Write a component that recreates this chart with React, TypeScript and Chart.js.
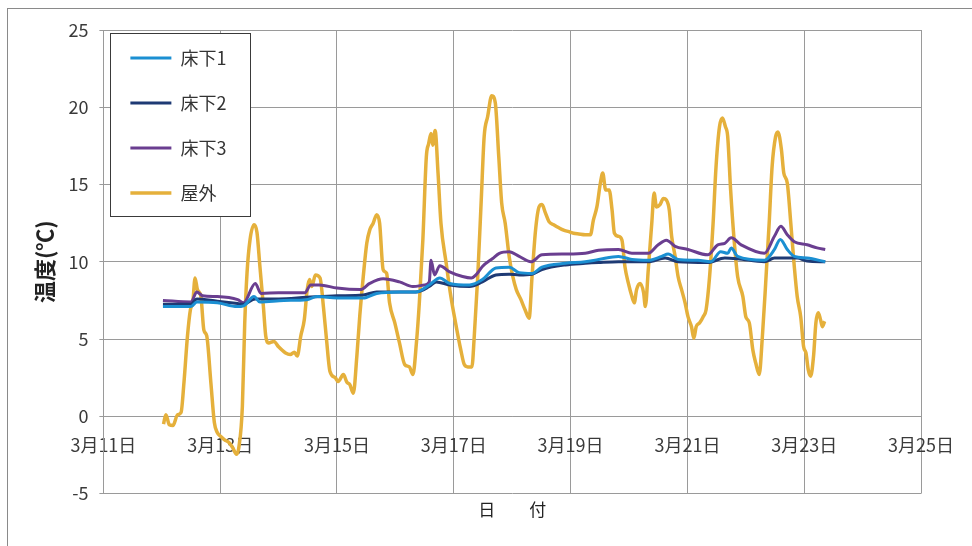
import React, { useEffect, useRef } from "react";
import { Chart, registerables } from "chart.js";

Chart.register(...registerables);

// ---- Axis ticks ----
const xTickDays = [11, 13, 15, 17, 19, 21, 23, 25];
const xTickLabels = ["3月11日", "3月13日", "3月15日", "3月17日", "3月19日", "3月21日", "3月23日", "3月25日"];
const yMin = -5;
const yMax = 25;
const yStep = 5;

// ---- Series (x = day of March, y = °C) ----
const seriesNames = ["床下1", "床下2", "床下3", "屋外"];

const floor1Days = [12.02, 12.5, 12.6, 12.95, 13.29, 13.4, 13.58, 13.68, 14.09, 14.48, 14.66, 15.0, 15.45, 15.68, 16.07, 16.35, 16.58, 16.76, 16.93, 17.27, 17.49, 17.72, 17.95, 18.12, 18.34, 18.51, 18.91, 19.25, 19.48, 19.82, 20.05, 20.33, 20.56, 20.67, 20.84, 21.18, 21.4, 21.57, 21.69, 21.75, 21.86, 22.32, 22.49, 22.59, 22.71, 22.83, 23.05, 23.36];
const floor1Temps = [7.1, 7.1, 7.4, 7.35, 7.1, 7.15, 7.75, 7.4, 7.5, 7.55, 7.75, 7.65, 7.65, 7.95, 8.05, 8.05, 8.5, 8.95, 8.6, 8.5, 8.85, 9.6, 9.65, 9.3, 9.25, 9.65, 9.9, 10.0, 10.15, 10.35, 10.15, 10.1, 10.35, 10.5, 10.15, 10.1, 10.0, 10.65, 10.55, 10.9, 10.35, 10.1, 10.8, 11.45, 10.8, 10.35, 10.25, 10.0];

const floor2Days = [12.02, 12.5, 12.6, 12.95, 13.3, 13.4, 13.6, 14.0, 14.48, 15.0, 15.45, 15.68, 16.35, 16.58, 16.7, 16.93, 17.27, 17.49, 17.72, 17.95, 18.12, 18.34, 18.51, 18.91, 19.25, 19.48, 19.82, 20.33, 20.62, 20.84, 21.35, 21.64, 21.86, 22.32, 22.49, 22.88, 23.05, 23.36];
const floor2Temps = [7.25, 7.25, 7.6, 7.45, 7.3, 7.25, 7.6, 7.6, 7.7, 7.8, 7.85, 8.05, 8.05, 8.4, 8.7, 8.5, 8.4, 8.7, 9.15, 9.2, 9.15, 9.2, 9.5, 9.8, 9.9, 9.95, 10.0, 10.0, 10.25, 10.0, 9.95, 10.25, 10.2, 10.0, 10.25, 10.25, 10.05, 10.0];

const floor3Days = [12.02, 12.5, 12.6, 12.7, 12.95, 13.3, 13.4, 13.6, 13.7, 14.0, 14.45, 14.55, 14.7, 15.0, 15.4, 15.56, 15.79, 16.07, 16.3, 16.5, 16.58, 16.61, 16.67, 16.76, 16.93, 17.15, 17.3, 17.38, 17.49, 17.66, 17.78, 17.95, 18.12, 18.32, 18.51, 18.91, 19.25, 19.48, 19.82, 20.05, 20.33, 20.5, 20.64, 20.79, 21.01, 21.35, 21.52, 21.64, 21.75, 21.92, 22.32, 22.49, 22.6, 22.71, 22.83, 23.05, 23.22, 23.36];
const floor3Temps = [7.5, 7.4, 8.05, 7.8, 7.75, 7.55, 7.35, 8.6, 7.95, 8.0, 8.0, 8.5, 8.5, 8.3, 8.2, 8.6, 8.9, 8.7, 8.4, 8.5, 8.7, 10.1, 9.15, 9.75, 9.35, 9.05, 8.95, 9.15, 9.7, 10.2, 10.55, 10.65, 10.35, 10.0, 10.45, 10.5, 10.55, 10.75, 10.8, 10.55, 10.55, 11.1, 11.4, 11.0, 10.8, 10.45, 11.1, 11.2, 11.55, 11.1, 10.55, 11.65, 12.3, 11.75, 11.3, 11.1, 10.9, 10.8];

const outdoorDays = [12.03, 12.07, 12.13, 12.19, 12.27, 12.33, 12.38, 12.44, 12.49, 12.53, 12.57, 12.61, 12.67, 12.72, 12.77, 12.84, 12.9, 12.95, 13.01, 13.07, 13.15, 13.21, 13.28, 13.32, 13.38, 13.42, 13.46, 13.51, 13.58, 13.63, 13.68, 13.74, 13.78, 13.83, 13.92, 14.0, 14.12, 14.2, 14.27, 14.32, 14.38, 14.44, 14.49, 14.53, 14.57, 14.63, 14.71, 14.77, 14.82, 14.88, 14.97, 15.02, 15.11, 15.17, 15.22, 15.28, 15.34, 15.39, 15.45, 15.51, 15.56, 15.62, 15.68, 15.73, 15.79, 15.85, 15.9, 15.99, 16.07, 16.16, 16.24, 16.3, 16.36, 16.41, 16.47, 16.53, 16.57, 16.61, 16.64, 16.68, 16.73, 16.78, 16.87, 16.95, 17.03, 17.12, 17.18, 17.24, 17.31, 17.35, 17.41, 17.47, 17.52, 17.58, 17.65, 17.71, 17.77, 17.82, 17.88, 17.95, 18.01, 18.07, 18.15, 18.22, 18.29, 18.34, 18.4, 18.46, 18.51, 18.57, 18.63, 18.71, 18.8, 18.88, 18.97, 19.05, 19.14, 19.25, 19.34, 19.39, 19.45, 19.51, 19.55, 19.6, 19.66, 19.71, 19.75, 19.82, 19.88, 19.93, 19.99, 20.05, 20.09, 20.13, 20.19, 20.25, 20.28, 20.33, 20.39, 20.43, 20.47, 20.53, 20.59, 20.64, 20.69, 20.73, 20.79, 20.84, 20.9, 20.96, 21.01, 21.07, 21.11, 21.15, 21.21, 21.27, 21.32, 21.38, 21.44, 21.49, 21.55, 21.6, 21.65, 21.69, 21.74, 21.8, 21.86, 21.95, 22.0, 22.06, 22.12, 22.17, 22.23, 22.28, 22.34, 22.4, 22.45, 22.51, 22.55, 22.61, 22.65, 22.71, 22.77, 22.83, 22.88, 22.94, 22.99, 23.03, 23.07, 23.11, 23.16, 23.2, 23.24, 23.28, 23.31, 23.35];
const outdoorTemps = [-0.5, 0.1, -0.55, -0.6, 0.1, 0.25, 2.2, 5.2, 6.9, 7.35, 8.95, 8.2, 7.75, 5.6, 5.2, 2.2, -0.4, -1.05, -1.3, -1.5, -1.7, -2.0, -2.45, -2.0, 0.65, 6.0, 9.3, 11.4, 12.4, 11.9, 9.7, 7.1, 5.2, 4.75, 4.85, 4.5, 4.1, 4.0, 4.15, 3.9, 5.2, 6.25, 8.2, 8.85, 8.4, 9.15, 8.95, 7.0, 5.0, 2.9, 2.5, 2.25, 2.7, 2.2, 2.05, 1.5, 3.9, 6.5, 9.05, 11.2, 12.05, 12.5, 13.05, 12.5, 9.5, 9.25, 7.35, 6.05, 4.75, 3.35, 3.2, 2.7, 4.75, 7.35, 11.4, 16.8, 17.65, 18.3, 17.55, 18.5, 15.75, 12.5, 9.9, 7.75, 6.05, 4.3, 3.35, 3.2, 3.2, 5.15, 9.05, 14.0, 18.1, 19.4, 20.75, 20.3, 16.8, 13.8, 12.5, 10.3, 9.05, 8.2, 7.55, 6.9, 6.35, 9.05, 12.05, 13.55, 13.7, 13.15, 12.6, 12.4, 12.2, 12.05, 11.95, 11.85, 11.8, 11.75, 11.75, 12.7, 13.55, 15.1, 15.75, 14.65, 14.65, 13.35, 11.85, 11.65, 11.4, 9.7, 8.6, 7.75, 7.35, 8.2, 8.6, 8.0, 7.1, 9.5, 12.5, 14.45, 13.55, 13.7, 14.1, 14.0, 13.35, 11.65, 10.35, 9.05, 8.2, 7.35, 6.45, 5.8, 5.05, 5.8, 6.05, 6.45, 6.9, 9.05, 12.5, 16.15, 18.75, 19.3, 18.75, 18.1, 14.65, 11.4, 9.05, 7.75, 6.45, 6.05, 4.3, 3.45, 2.7, 4.95, 8.6, 12.5, 16.15, 18.1, 18.4, 17.25, 15.75, 15.1, 12.5, 9.7, 7.75, 6.45, 4.5, 4.1, 3.0, 2.6, 3.9, 6.05, 6.7, 6.25, 5.8, 6.15];

const seriesColors = ["#1b8fd2", "#1e3a74", "#6a3e90", "#e5b03b"];
const seriesWidths = [3, 3, 3, 3.5];

const FONT = "'Noto Sans CJK JP', 'Noto Sans', sans-serif";

const toPoints = (days: number[], temps: number[]) => days.map((d, i) => ({ x: d, y: temps[i] }));

const legendFrame = {
  id: "legendFrame",
  afterDraw(chart: any) {
    const lg = chart.legend;
    const hb = lg && lg.legendHitBoxes;
    if (!hb || !hb.length) return;
    const ctx = chart.ctx;
    const x0 = Math.round(hb[0].left - 20);
    const y0 = Math.round(hb[0].top - 16);
    const x1 = Math.round(Math.max(...hb.map((h: any) => h.left + h.width)) + 24);
    const last = hb[hb.length - 1];
    const y1 = Math.round(last.top + last.height + 14);
    ctx.save();
    ctx.fillStyle = "#ffffff";
    ctx.fillRect(x0, y0, x1 - x0, y1 - y0);
    ctx.strokeStyle = "#3a3a3a";
    ctx.lineWidth = 1;
    ctx.strokeRect(x0 + 0.5, y0 + 0.5, x1 - x0, y1 - y0);
    ctx.restore();
    lg.draw();
  },
};

export default function App() {
  const canvasRef = useRef<HTMLCanvasElement | null>(null);

  useEffect(() => {
    if (!canvasRef.current) return;
    const seriesData = [
      toPoints(floor1Days, floor1Temps),
      toPoints(floor2Days, floor2Temps),
      toPoints(floor3Days, floor3Temps),
      toPoints(outdoorDays, outdoorTemps),
    ];
    const chart = new Chart(canvasRef.current, {
      type: "line",
      data: {
        datasets: seriesNames.map((name, i) => ({
          label: name,
          data: seriesData[i],
          borderColor: seriesColors[i],
          backgroundColor: seriesColors[i],
          borderWidth: seriesWidths[i],
          pointRadius: 0,
          cubicInterpolationMode: "monotone" as const,
          fill: false,
        })),
      },
      options: {
        responsive: false,
        animation: false,
        devicePixelRatio: 1,
        layout: { padding: { left: 27, right: 49, top: 30, bottom: 20 } },
        plugins: {
          tooltip: { enabled: false },
          legend: {
            position: "chartArea" as any,
            align: "start",
            title: {
              display: true,
              text: " ",
              font: { size: 10 },
              padding: { top: 10, bottom: 0 },
            },
            labels: {
              usePointStyle: true,
              pointStyle: "line",
              pointStyleWidth: 41,
              padding: 27,
              color: "#333333",
              font: { family: FONT, size: 18 },
            },
          },
          title: {
            display: true,
            position: "bottom",
            fullSize: false,
            text: "日　　付",
            color: "#222222",
            font: { family: FONT, size: 17, weight: "normal" },
            padding: { top: 6, bottom: 6 },
          },
        },
        scales: {
          x: {
            type: "linear",
            position: { y: 0 } as any,
            min: xTickDays[0],
            max: xTickDays[xTickDays.length - 1],
            afterBuildTicks: (scale: any) => {
              scale.ticks = xTickDays.map((v) => ({ value: v }));
            },
            grid: { color: "#9a9a9a", lineWidth: 1, drawTicks: false, tickLength: 0 },
            border: { color: "#9a9a9a" },
            ticks: {
              autoSkip: false,
              maxRotation: 0,
              padding: 18,
              color: "#3a3a3a",
              font: { family: FONT, size: 18 },
              callback: (_v: any, i: number) => xTickLabels[i],
            },
          },
          y: {
            type: "linear",
            min: yMin,
            max: yMax,
            ticks: {
              stepSize: yStep,
              padding: 11,
              color: "#3a3a3a",
              font: { family: FONT, size: 18 },
            },
            grid: { color: "#9a9a9a", lineWidth: 1, tickLength: 4 },
            border: { color: "#9a9a9a" },
            title: {
              display: true,
              text: "温度(℃)",
              color: "#222222",
              font: { family: FONT, size: 22, weight: "bold" },
              padding: { top: 4, bottom: 0 },
            },
          },
        },
      },
      plugins: [legendFrame],
    });
    return () => chart.destroy();
  }, []);

  return (
    <div style={{ position: "fixed", left: 0, top: 0, width: 972, height: 546, overflow: "hidden", background: "#ffffff" }}>
      <div style={{ position: "absolute", left: 7, top: 8, width: 1100, height: 700, border: "1px solid #8a8a8a" }} />
      <canvas ref={canvasRef} width={972} height={546} style={{ position: "absolute", left: 0, top: 0, width: 972, height: 546 }} />
    </div>
  );
}
